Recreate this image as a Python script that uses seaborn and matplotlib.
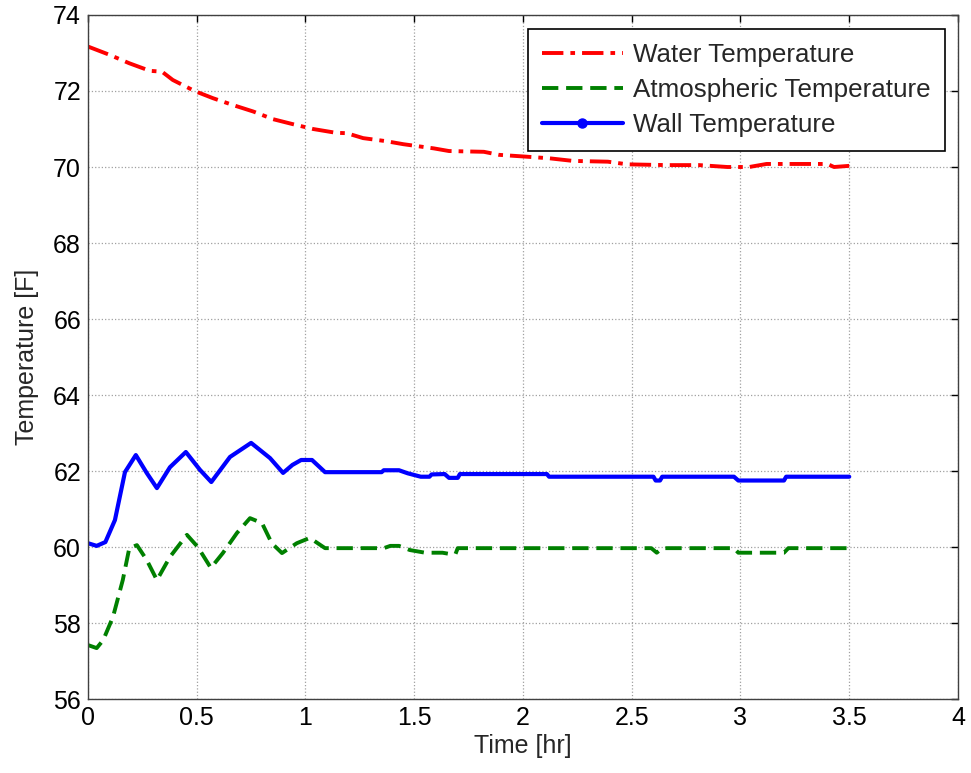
import matplotlib
matplotlib.use("Agg")
import matplotlib.pyplot as plt
import seaborn as sns
import pandas as pd
from matplotlib.lines import Line2D

# ---- data ----
water_t = [0.0, 0.10, 0.19, 0.285, 0.34, 0.39, 0.49, 0.575, 0.667, 0.76, 0.85, 0.94,
           1.035, 1.14, 1.19, 1.265, 1.37, 1.45, 1.59, 1.66, 1.82, 1.89, 2.02, 2.12,
           2.23, 2.39, 2.48, 2.66, 2.81, 2.94, 3.04, 3.12, 3.27, 3.40, 3.43, 3.50]
water_T = [73.17, 72.95, 72.73, 72.53, 72.51, 72.29, 72.0, 71.81, 71.63, 71.46, 71.26, 71.13,
           71.0, 70.9, 70.89, 70.76, 70.68, 70.6, 70.49, 70.42, 70.4, 70.32, 70.27, 70.23,
           70.16, 70.14, 70.07, 70.05, 70.05, 70.0, 70.0, 70.08, 70.08, 70.08, 70.0, 70.03]

atm_t = [0.0, 0.04, 0.07, 0.115, 0.16, 0.19, 0.225, 0.27, 0.317, 0.377, 0.455, 0.505,
         0.565, 0.62, 0.685, 0.745, 0.8, 0.845, 0.892, 0.96, 1.02, 1.09, 1.36, 1.39,
         1.43, 1.48, 1.55, 1.63, 1.66, 1.69, 1.70, 2.59, 2.615, 2.64, 2.97, 2.99,
         3.20, 3.22, 3.50]
atm_T = [57.42, 57.34, 57.55, 58.16, 59.13, 59.97, 60.05, 59.66, 59.13, 59.74, 60.32, 60.0,
         59.45, 59.84, 60.37, 60.76, 60.63, 60.1, 59.84, 60.1, 60.24, 59.97, 59.97, 60.03,
         60.03, 59.92, 59.85, 59.85, 59.82, 59.82, 59.97, 59.97, 59.85, 59.97, 59.97, 59.85,
         59.85, 59.97, 59.97]

wall_t = [0.0, 0.04, 0.08, 0.124, 0.17, 0.22, 0.27, 0.317, 0.377, 0.45, 0.515, 0.567,
          0.653, 0.75, 0.837, 0.897, 0.94, 0.98, 1.03, 1.09, 1.35, 1.36, 1.43, 1.47,
          1.53, 1.57, 1.58, 1.64, 1.66, 1.70, 1.71, 2.11, 2.12, 2.60, 2.61, 2.63,
          2.64, 2.97, 2.99, 3.20, 3.21, 3.50]
wall_T = [60.1, 60.03, 60.13, 60.71, 61.97, 62.42, 61.95, 61.55, 62.1, 62.5, 62.03, 61.71,
          62.37, 62.74, 62.34, 61.95, 62.16, 62.29, 62.29, 61.97, 61.97, 62.02, 62.02, 61.94,
          61.85, 61.85, 61.91, 61.92, 61.82, 61.82, 61.92, 61.92, 61.85, 61.85, 61.75, 61.75,
          61.85, 61.85, 61.75, 61.75, 61.85, 61.85]

labels = ["Water Temperature", "Atmospheric Temperature", "Wall Temperature"]
x_ticks = [0, 0.5, 1, 1.5, 2, 2.5, 3, 3.5, 4]
y_ticks = [56, 58, 60, 62, 64, 66, 68, 70, 72, 74]

sns.set_style("white")
plt.rcParams["font.family"] = ["Liberation Sans", "DejaVu Sans"]

FS = 18
WATER_DASH = [5.5, 1.8, 1.2, 1.8]
ATM_DASH = [4.2, 2.0]

fig = plt.figure(figsize=(9.71, 7.73), dpi=100)
ax = fig.add_axes([0.0906, 0.0957, 0.8960, 0.8849])

df_w = pd.DataFrame({"t": water_t, "T": water_T})
df_a = pd.DataFrame({"t": atm_t, "T": atm_T})
df_b = pd.DataFrame({"t": wall_t, "T": wall_T})

sns.lineplot(data=df_w, x="t", y="T", ax=ax, color="#ff0000", lw=2.8, estimator=None,
             sort=False)
ax.lines[-1].set_dashes(WATER_DASH)
sns.lineplot(data=df_a, x="t", y="T", ax=ax, color="#008000", lw=2.8, estimator=None,
             sort=False)
ax.lines[-1].set_dashes(ATM_DASH)
sns.lineplot(data=df_b, x="t", y="T", ax=ax, color="#0000ff", lw=3.0, estimator=None,
             sort=False)

ax.set_xlim(0, 4)
ax.set_ylim(56, 74)
ax.set_xticks(x_ticks)
ax.set_xticklabels([f"{v:g}" for v in x_ticks])
ax.set_yticks(y_ticks)
ax.set_yticklabels([str(v) for v in y_ticks])
ax.grid(True, color="#a0a0a0", linestyle=":", linewidth=0.9)
ax.tick_params(direction="in", length=5, width=1, labelsize=FS, top=True, right=True,
               colors="black", pad=5)
for s in ax.spines.values():
    s.set_color("#404040")
    s.set_linewidth(1.0)
ax.set_xlabel("Time [hr]", fontsize=FS, labelpad=3)
ax.set_ylabel("Temperature [F]", fontsize=FS, labelpad=10)

handles = [
    Line2D([], [], color="#ff0000", lw=2.8, dashes=WATER_DASH),
    Line2D([], [], color="#008000", lw=2.8, dashes=ATM_DASH),
    Line2D([], [], color="#0000ff", lw=3.0, marker="o", markersize=6.5),
]
leg = ax.legend(handles, labels, loc="upper right", bbox_to_anchor=(0.985, 0.9795),
                borderaxespad=0, fontsize=18.7, frameon=True, fancybox=False,
                handlelength=3.1, borderpad=0.55, labelspacing=0.42, handletextpad=0.4)
leg.get_frame().set_edgecolor("black")
leg.get_frame().set_linewidth(1.2)
leg.get_frame().set_alpha(1.0)

fig.savefig("out.png", dpi=100)
